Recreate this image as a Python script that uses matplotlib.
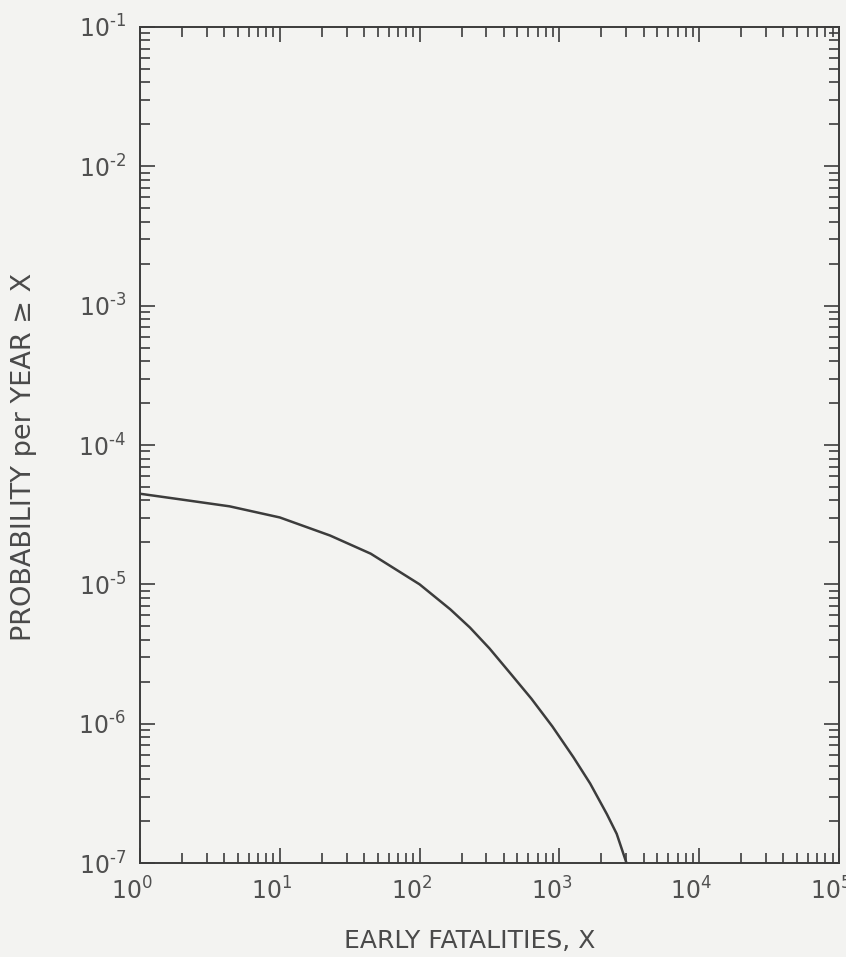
import matplotlib.pyplot as plt
import matplotlib.transforms as mtransforms

# values (log-log)
fatalities = [1, 1.95, 4.37, 10, 22.9, 44.7, 100, 166, 229, 316, 447, 631,
              891, 1259, 1660, 2188, 2570, 3020]
probability = [4.47e-5, 4.07e-5, 3.63e-5, 3.02e-5, 2.24e-5, 1.66e-5, 1.0e-5,
               6.61e-6, 4.90e-6, 3.47e-6, 2.29e-6, 1.51e-6, 9.55e-7, 5.75e-7,
               3.72e-7, 2.24e-7, 1.62e-7, 1.0e-7]

x_ticks = [1e0, 1e1, 1e2, 1e3, 1e4, 1e5]
x_labels = ['$10^{0}$', '$10^{1}$', '$10^{2}$', '$10^{3}$', '$10^{4}$', '$10^{5}$']
y_ticks = [1e-7, 1e-6, 1e-5, 1e-4, 1e-3, 1e-2, 1e-1]
# short hyphen (U+2010) like the hand lettering, not a math minus
y_labels = ['$10^{\u20107}$', '$10^{\u20106}$', '$10^{\u20105}$', '$10^{\u20104}$',
            '$10^{\u20103}$', '$10^{\u20102}$', '$10^{\u20101}$']

ink = '#3c3c3c'
paper = '#f3f3f1'

plt.rcParams['mathtext.default'] = 'regular'

fig = plt.figure(figsize=(8.46, 9.57), dpi=100, facecolor=paper)
ax = fig.add_axes([0.1655, 0.0982, 0.8262, 0.8736], facecolor=paper)

ax.plot(fatalities, probability, color=ink, lw=1.8)

ax.set_xscale('log')
ax.set_yscale('log')
ax.set_xlim(1, 1e5)
ax.set_ylim(1e-7, 1e-1)

ax.set_xticks(x_ticks)
ax.set_xticklabels(x_labels)
ax.set_yticks(y_ticks)
ax.set_yticklabels(y_labels)

ax.tick_params(which='both', direction='in', top=True, right=True, color=ink,
               labelcolor='#505050', labelsize=17, width=1.2)
ax.tick_params(which='major', length=11, pad=10)
ax.tick_params(which='minor', length=7)

# the "10" sits left of the tick in the original lettering
shift = mtransforms.ScaledTranslation(-8 / 100, 0, fig.dpi_scale_trans)
for lab in ax.get_xticklabels():
    lab.set_transform(lab.get_transform() + shift)

for s in ax.spines.values():
    s.set_color(ink)
    s.set_linewidth(1.4)

ax.set_xlabel('EARLY FATALITIES, X', fontsize=18, color='#4a4a4a')
ax.xaxis.set_label_coords(0.472, -0.079)
ax.set_ylabel('PROBABILITY per YEAR \u2265 X', fontsize=19.5, color='#4a4a4a')
ax.yaxis.set_label_coords(-0.148, 0.486)

fig.savefig('out.png', dpi=100, facecolor=paper)
